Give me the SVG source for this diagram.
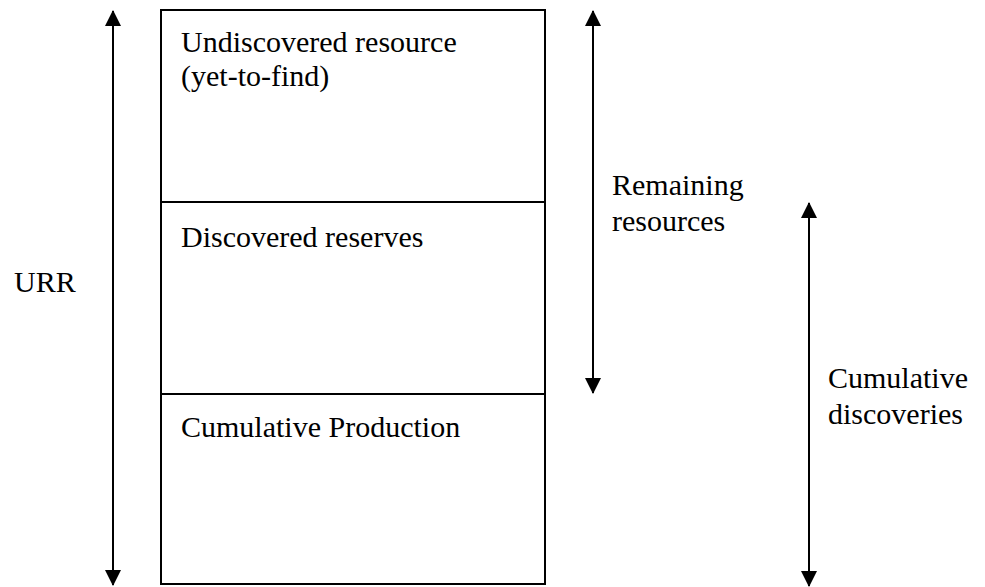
<svg xmlns="http://www.w3.org/2000/svg" width="985" height="587" viewBox="0 0 985 587">
<style>
text{font-family:"Liberation Serif","Times New Roman",serif;font-size:30px;fill:#000}
.ln{stroke:#000;stroke-width:2;fill:none}
.box{stroke:#000;stroke-width:2;fill:#fff}
</style>
<defs>
<marker id="ah" viewBox="0 0 16 16" refX="15" refY="8" markerWidth="16" markerHeight="16" markerUnits="userSpaceOnUse" orient="auto-start-reverse">
<path d="M0,0 L16,8 L0,16 z" fill="#000"/>
</marker>
</defs>
<rect width="985" height="587" fill="#fff"/>
<g id="undiscovered">
<rect class="box" x="161" y="10" width="384" height="192"/>
<text x="181" y="52">Undiscovered resource</text>
<text x="181" y="86">(yet-to-find)</text>
</g>
<g id="reserves">
<rect class="box" x="161" y="202" width="384" height="192"/>
<text x="181" y="247">Discovered reserves</text>
</g>
<g id="production">
<rect class="box" x="161" y="394" width="384" height="190"/>
<text x="181" y="437">Cumulative Production</text>
</g>
<g id="labels">
<text x="14" y="292">URR</text>
<text x="612" y="195">Remaining</text>
<text x="612" y="231">resources</text>
<text x="828" y="388">Cumulative</text>
<text x="828" y="424">discoveries</text>
</g>
<g id="connectors">
<line class="ln" x1="113" y1="11" x2="113" y2="585" marker-start="url(#ah)" marker-end="url(#ah)"/>
<line class="ln" x1="593" y1="11" x2="593" y2="393" marker-start="url(#ah)" marker-end="url(#ah)"/>
<line class="ln" x1="809" y1="203" x2="809" y2="586" marker-start="url(#ah)" marker-end="url(#ah)"/>
</g>
</svg>
